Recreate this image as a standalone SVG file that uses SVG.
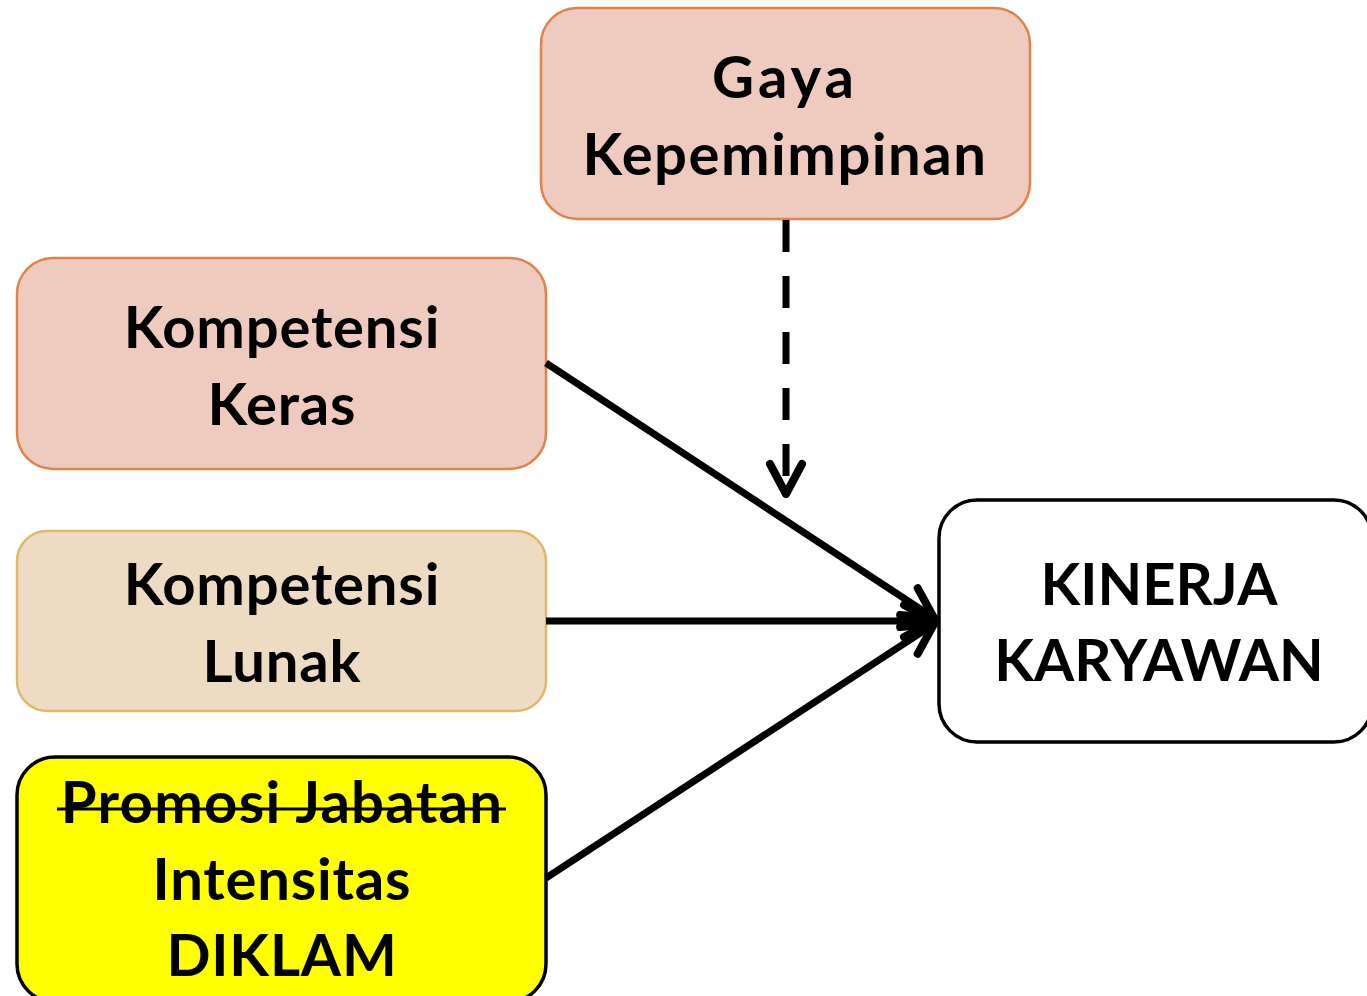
<svg xmlns="http://www.w3.org/2000/svg" width="1367" height="996" viewBox="0 0 1367 996">
<style>
.t{font-family:"Lato","Open Sans","DejaVu Sans",sans-serif;font-weight:bold;font-size:58px;fill:#000;text-anchor:middle;letter-spacing:0.8px}
.peach{fill:#EECBBE;stroke:#E0834A;stroke-width:2.5}
.tan{fill:#EDDCC3;stroke:#DDB968;stroke-width:2.5}
.yel{fill:#FFFF00;stroke:#000;stroke-width:3.5}
.wht{fill:#FFFFFF;stroke:#000;stroke-width:3.5}
.ln{fill:none;stroke:#000;stroke-width:7}
</style>
<defs>
<marker id="ah" markerUnits="userSpaceOnUse" orient="auto" markerWidth="60" markerHeight="60" refX="0" refY="0" viewBox="-40 -30 50 60" overflow="visible">
<path d="M-30,-16 L0,0 L-30,16" fill="none" stroke="#000" stroke-width="8" stroke-linecap="round" stroke-linejoin="round"/>
</marker>
</defs>
<g id="gaya">
<rect class="peach" x="541" y="8" width="489" height="211" rx="36"/>
<text class="t" x="785" y="98" style="letter-spacing:4px">Gaya</text>
<text class="t" x="785" y="175" style="letter-spacing:1.5px">Kepemimpinan</text>
</g>
<g id="keras">
<rect class="peach" x="17" y="258" width="529" height="211" rx="36"/>
<text class="t" x="282" y="348">Kompetensi</text>
<text class="t" x="282" y="425">Keras</text>
</g>
<g id="lunak">
<rect class="tan" x="17" y="531" width="529" height="180" rx="30"/>
<text class="t" x="282" y="605">Kompetensi</text>
<text class="t" x="282" y="682">Lunak</text>
</g>
<g id="diklam">
<rect class="yel" x="17" y="757" width="529" height="245" rx="38"/>
<text class="t" x="282" y="823" style="font-size:58px;letter-spacing:1.3px">Promosi Jabatan</text>
<line x1="57" y1="809" x2="506" y2="809" stroke="#000" stroke-width="3"/>
<text class="t" x="282" y="900">Intensitas</text>
<text class="t" x="282" y="976">DIKLAM</text>
</g>
<g id="kinerja">
<rect class="wht" x="939" y="500" width="433" height="242" rx="38"/>
<text class="t" x="1159" y="605" style="letter-spacing:0px">KINERJA</text>
<text class="t" x="1159" y="681" style="letter-spacing:0px">KARYAWAN</text>
</g>
<g id="connectors">
<line class="ln" x1="546" y1="363" x2="934" y2="618" marker-end="url(#ah)"/>
<line class="ln" x1="546" y1="621" x2="934" y2="621" marker-end="url(#ah)"/>
<line class="ln" x1="546" y1="878" x2="934" y2="624" marker-end="url(#ah)"/>
<line class="ln" x1="786" y1="220" x2="786" y2="494" stroke-width="8" stroke-dasharray="32 24" marker-end="url(#ah)"/>
</g>
</svg>
